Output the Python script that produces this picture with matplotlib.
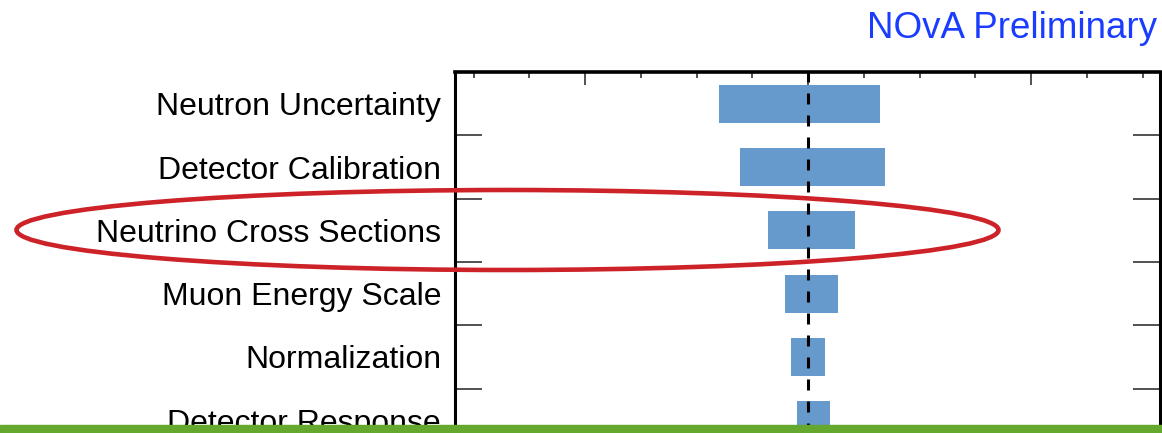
import matplotlib.pyplot as plt
from matplotlib.patches import Ellipse, Rectangle

plt.rcParams['font.family'] = ['Liberation Sans', 'DejaVu Sans']

# systematic shifts (low / high side) for each source
sources = ["Neutron Uncertainty", "Detector Calibration", "Neutrino Cross Sections",
           "Muon Energy Scale", "Normalization", "Detector Response"]
low = [-0.0399, -0.0305, -0.0179, -0.0103, -0.0076, -0.0049]
high = [0.0323, 0.0345, 0.0211, 0.0135, 0.0076, 0.0099]

W, H = 1162, 433
fig = plt.figure(figsize=(W / 100, H / 100), dpi=100)
# axes runs past the lower edge of the figure
ax = fig.add_axes([455 / W, (433 - 452) / H, 705 / W, 380 / H])

pos = list(range(len(sources)))
widths = [h - l for l, h in zip(low, high)]
ax.barh(pos, widths, left=low, height=0.6, color='#6699cc', zorder=2)
ax.axvline(0, color='black', lw=2.2, ls=(0, (3.6, 3.6)), zorder=3)

ax.set_xlim(-0.1583, 0.1578)
ax.set_ylim(len(sources) - 0.5, -0.5)

ax.set_xticks([-0.1, 0, 0.1])
ax.set_xticks([i * 0.025 for i in range(-6, 7)], minor=True)
ax.tick_params(axis='x', which='both', top=True, bottom=True, direction='in',
               labelbottom=False, width=1.1, color='#222222')
ax.tick_params(axis='x', which='major', length=9)
ax.tick_params(axis='x', which='minor', length=4)

ax.set_yticks(pos, sources)
ax.set_yticks([p + 0.5 for p in pos[:-1]], minor=True)
ax.tick_params(axis='y', which='major', length=0, pad=10, labelsize=23)
ax.tick_params(axis='y', which='minor', left=True, right=True, direction='in',
               length=19.5, width=1.1, color='#222222')

for s in ax.spines.values():
    s.set_linewidth(2.2)
ax.spines['top'].set_linewidth(2.6)

fig.text(1157 / W, (433 - 38) / H, "NOvA Preliminary", color='#1a3cff',
         fontsize=26.5, ha='right', va='baseline')

# red highlight around the cross-section row
fig.patches.append(Ellipse((507.5 / W, (433 - 230) / H), 982 / W, 80 / H,
                           transform=fig.transFigure, fill=False,
                           edgecolor='#cd2328', lw=3.3, zorder=10))

# green strip along the bottom
fig.patches.append(Rectangle((0, 0), 1, 8 / H, transform=fig.transFigure,
                             color='#64a82e', zorder=11))

fig.savefig('out.png', dpi=100)
